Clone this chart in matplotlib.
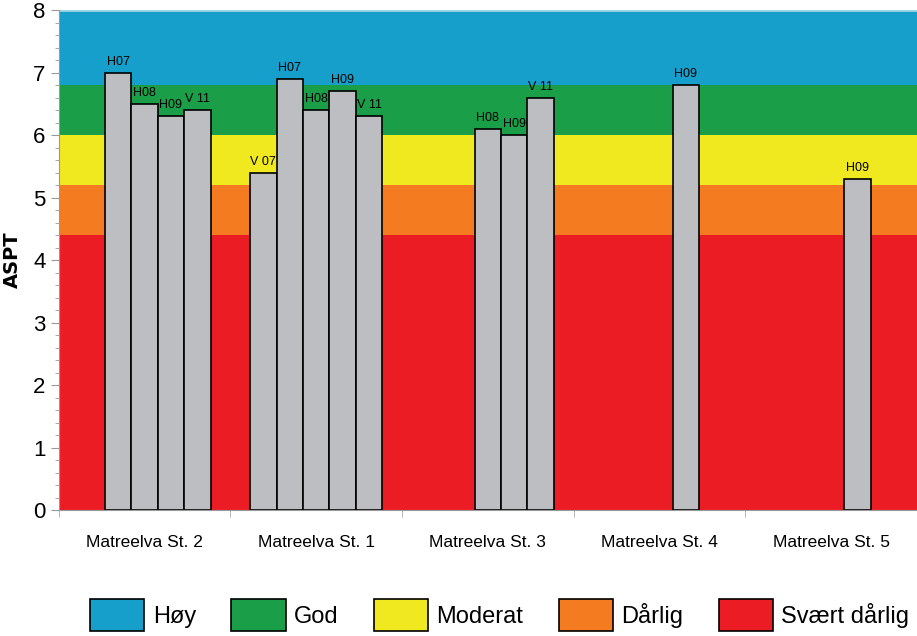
import numpy as np
import matplotlib.pyplot as plt
from matplotlib.patches import Patch

# stasjoner og prøvetidspunkt
stations = ["Matreelva St. 2", "Matreelva St. 1", "Matreelva St. 3",
            "Matreelva St. 4", "Matreelva St. 5"]
series = ["V07", "H07", "H08", "H09", "V11"]
series_labels = ["V 07", "H07", "H08", "H09", "V 11"]

nan = np.nan
aspt = {
    "V07": [nan, 5.4, nan, nan, nan],
    "H07": [7.0, 6.9, nan, nan, nan],
    "H08": [6.5, 6.4, 6.1, nan, nan],
    "H09": [6.3, 6.7, 6.0, 6.8, 5.3],
    "V11": [6.4, 6.3, 6.6, nan, nan],
}

# tilstandsklasser (nedre, øvre)
class_names = ["Høy", "God", "Moderat", "Dårlig", "Svært dårlig"]
class_limits = [(6.8, 8.0), (6.0, 6.8), (5.2, 6.0), (4.4, 5.2), (0.0, 4.4)]
class_colors = ["#169fca", "#1a9e48", "#f0e920", "#f47b20", "#ec1c24"]

narrow = ["Liberation Sans Narrow", "Liberation Sans", "DejaVu Sans"]

fig = plt.figure(figsize=(9.17, 6.36), dpi=100)
ax = fig.add_axes([0.064, 0.198, 0.936, 0.786])

for (lo, hi), c in zip(class_limits, class_colors):
    ax.axhspan(lo, hi, color=c, lw=0, zorder=0)

x = np.arange(len(stations))
w = 0.154
for i, s in enumerate(series):
    vals = np.array(aspt[s])
    pos = x + (i - 2) * w
    ax.bar(pos, vals, width=w, color="#bdbec2", edgecolor="black",
           linewidth=1.2, zorder=2)
    for p, v in zip(pos, vals):
        if not np.isnan(v):
            ax.text(p, v + 0.08, series_labels[i], ha="center", va="bottom",
                    fontsize=9, family="Liberation Sans", zorder=3)

ax.set_xlim(-0.5, len(stations) - 0.5)
ax.set_ylim(0, 8)
ax.set_xticks(x)
ax.set_xticklabels(stations, fontsize=12.5, family="Liberation Sans")
ax.set_xticks(np.arange(-0.5, len(stations)), minor=True)
ax.tick_params(axis="x", which="major", length=0, pad=18)
ax.tick_params(axis="x", which="minor", length=5, color="#aaaaaa")
ax.set_yticks(np.arange(0, 9, 1))
ax.set_yticks(np.arange(0, 8.01, 0.2), minor=True)
ax.tick_params(axis="y", which="major", length=6, color="#999999")
ax.tick_params(axis="y", which="minor", length=3, color="#999999")
for t in ax.get_yticklabels():
    t.set_fontfamily(narrow)
    t.set_fontsize(16)
ax.set_ylabel("ASPT", fontsize=14, fontweight="bold", labelpad=8)

for side in ["top", "right"]:
    ax.spines[side].set_visible(False)
ax.spines["left"].set_color("#999999")
ax.spines["bottom"].set_color("#999999")
ax.axhline(8, color="#9fd6e6", lw=2, zorder=1)

handles = [Patch(facecolor=c, edgecolor="black", lw=1.2) for c in class_colors]
fig.legend(handles, class_names, loc="center", bbox_to_anchor=(0.545, 0.033),
           ncol=5, frameon=False, prop={"family": narrow, "size": 17},
           handlelength=2.3, handleheight=1.75, columnspacing=1.5,
           handletextpad=0.35)

fig.savefig("out.png", dpi=100)
